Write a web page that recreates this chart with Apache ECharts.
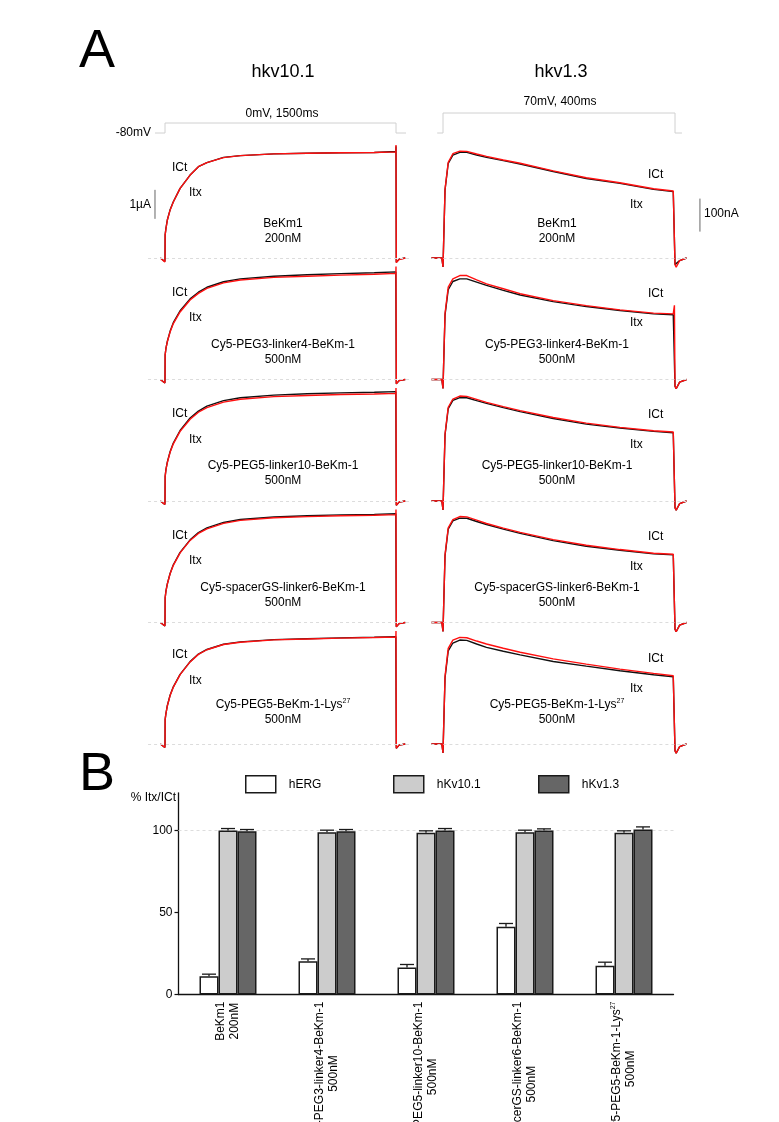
<!DOCTYPE html>
<html><head><meta charset="utf-8">
<script src="https://cdn.jsdelivr.net/npm/echarts@6/dist/echarts.min.js"></script>
<style>html,body{margin:0;padding:0;background:#fff}#c{width:779px;height:1122px}</style>
</head><body><div id="c"></div>
<script>
// ---------------- DATA ----------------
const panelNames = ['BeKm1', 'Cy5-PEG3-linker4-BeKm-1', 'Cy5-PEG5-linker10-BeKm-1', 'Cy5-spacerGS-linker6-BeKm-1', 'Cy5-PEG5-BeKm-1-Lys'];
const panelSup = ['', '', '', '', '27'];
const panelConc = ['200nM', '500nM', '500nM', '500nM', '500nM'];
const channelTitles = ['hkv10.1', 'hkv1.3'];
const protocolLabels = ['0mV, 1500ms', '70mV, 400ms'];

// hKv10.1 traces: time (ms), current (µA)
const tLeft = [-30, -1, 0, 1, 6, 15, 33, 54, 98, 163, 217, 272, 380, 489, 707, 924, 1141, 1359, 1499, 1500, 1502, 1520, 1560];
const kv10_ICt_1 = [0, -0.12, 0, 0.8, 1.02, 1.31, 1.66, 1.94, 2.40, 2.86, 3.15, 3.29, 3.47, 3.53, 3.59, 3.61, 3.63, 3.64, 3.67, 3.85, -0.15, -0.04, 0];
const kv10_Itx_1 = [0, -0.14, 0, 0.8, 1.00, 1.30, 1.65, 1.93, 2.40, 2.86, 3.15, 3.29, 3.46, 3.53, 3.59, 3.61, 3.63, 3.64, 3.66, 3.90, -0.16, -0.05, 0];
const kv10_ICt_2 = [0, -0.12, 0, 0.85, 1.07, 1.31, 1.66, 1.96, 2.37, 2.78, 3.01, 3.18, 3.37, 3.47, 3.56, 3.61, 3.65, 3.68, 3.71, 3.75, -0.15, -0.04, 0];
const kv10_Itx_2 = [0, -0.12, 0, 0.85, 1.07, 1.30, 1.64, 1.93, 2.33, 2.74, 2.97, 3.14, 3.33, 3.43, 3.52, 3.56, 3.60, 3.63, 3.66, 3.90, -0.15, -0.04, 0];
const kv10_ICt_3 = [0, -0.12, 0, 0.85, 1.08, 1.34, 1.70, 2.00, 2.43, 2.86, 3.10, 3.27, 3.46, 3.56, 3.65, 3.70, 3.73, 3.75, 3.77, 3.80, -0.15, -0.04, 0];
const kv10_Itx_3 = [0, -0.12, 0, 0.85, 1.07, 1.32, 1.68, 1.97, 2.40, 2.82, 3.06, 3.22, 3.41, 3.51, 3.60, 3.64, 3.67, 3.69, 3.71, 3.90, -0.15, -0.04, 0];
const kv10_ICt_4 = [0, -0.12, 0, 0.85, 1.08, 1.33, 1.69, 1.99, 2.42, 2.85, 3.10, 3.26, 3.45, 3.55, 3.64, 3.68, 3.71, 3.73, 3.75, 3.80, -0.15, -0.04, 0];
const kv10_Itx_4 = [0, -0.12, 0, 0.85, 1.07, 1.32, 1.68, 1.97, 2.40, 2.83, 3.07, 3.23, 3.42, 3.52, 3.61, 3.65, 3.68, 3.70, 3.72, 3.90, -0.15, -0.04, 0];
const kv10_ICt_5 = [0, -0.12, 0, 0.85, 1.05, 1.32, 1.68, 1.97, 2.40, 2.84, 3.10, 3.26, 3.44, 3.52, 3.60, 3.63, 3.66, 3.68, 3.70, 3.75, -0.15, -0.04, 0];
const kv10_Itx_5 = [0, -0.12, 0, 0.85, 1.05, 1.31, 1.67, 1.96, 2.39, 2.83, 3.09, 3.25, 3.43, 3.51, 3.59, 3.62, 3.65, 3.67, 3.69, 3.90, -0.15, -0.04, 0];

// hKv1.3 traces: time (ms), current (nA)
const tRight = [-20, -2, 0, 1, 3.5, 9, 17, 29, 41, 58, 75, 104, 133, 190, 247, 305, 363, 397, 399, 400, 402, 408, 420];
const kv13_ICt_1 = [0, 0, -27, 40, 206, 287, 312, 320, 320, 312, 305, 295, 285, 262, 241, 226, 208, 201, 205, -20, -25, -8, 0];
const kv13_Itx_1 = [0, 0, -27, 40, 208, 290, 316, 324, 323, 315, 308, 297, 287, 264, 243, 228, 210, 203, 208, -20, -28, -8, 0];
const kv13_ICt_2 = [0, 0, -27, 40, 195, 272, 297, 305, 305, 295, 285, 270, 256, 236, 221, 209, 199, 196, 200, -20, -28, -8, 0];
const kv13_Itx_2 = [0, 0, -27, 40, 200, 280, 305, 315, 315, 302, 290, 275, 260, 239, 224, 211, 201, 199, 225, -20, -28, -8, 0];
const kv13_ICt_3 = [0, 0, -27, 40, 200, 280, 305, 313, 313, 304, 296, 283, 271, 250, 233, 221, 211, 207, 210, -20, -28, -8, 0];
const kv13_Itx_3 = [0, 0, -27, 40, 203, 284, 309, 318, 317, 308, 299, 286, 274, 253, 236, 223, 213, 209, 214, -20, -28, -8, 0];
const kv13_ICt_4 = [0, 0, -27, 40, 202, 283, 308, 316, 316, 306, 297, 283, 270, 248, 231, 219, 208, 205, 208, -20, -28, -8, 0];
const kv13_Itx_4 = [0, 0, -27, 40, 205, 287, 312, 321, 320, 310, 300, 286, 273, 251, 234, 221, 210, 207, 212, -20, -28, -8, 0];
const kv13_ICt_5 = [0, 0, -27, 40, 200, 282, 306, 315, 314, 303, 293, 281, 270, 250, 236, 222, 210, 204, 206, -20, -28, -8, 0];
const kv13_Itx_5 = [0, 0, -27, 40, 205, 290, 315, 323, 322, 312, 303, 290, 278, 258, 242, 227, 214, 207, 212, -20, -28, -8, 0];

// voltage protocols (ms, mV)
const protoLeftT = [-65, 0, 0, 1500, 1500, 1565];
const protoLeftV = [-80, -80, 0, 0, -80, -80];
const protoRightT = [-10, 0, 0, 400, 400, 412];
const protoRightV = [-80, -80, 70, 70, -80, -80];

// scale bars
const scaleLeft = [[-65, 1.35], [-65, 2.35]];    // 1 µA
const scaleRight = [[443, 80], [443, 180]];      // 100 nA

// Panel B: % Itx/ICt
const seriesNames = ['hERG', 'hKv10.1', 'hKv1.3'];
const hERG = [11.2, 20.3, 16.5, 41.3, 17.5];
const hERG_err = [1.2, 1.4, 1.8, 2.0, 2.2];
const hKv101 = [100, 99.0, 98.6, 99.0, 98.6];
const hKv101_err = [1.2, 1.2, 1.2, 1.2, 1.2];
const hKv13 = [99.6, 99.6, 100.0, 100.0, 100.6];
const hKv13_err = [1.0, 1.0, 1.2, 1.0, 1.6];
const yTicksB = [0, 50, 100];

// ---------------- LAYOUT ----------------
const FONT = "'Liberation Sans', Arial, sans-serif";
const rowBase = [258, 379.5, 501, 622.5, 744];
const L = {t0x: 165, pxms: 0.154, pxu: 29, xmin: -110, xmax: 1600, ymin: -0.5, ymax: 4.2, baseEnd: 1600};
const R = {t0x: 443, pxms: 0.58, pxu: 0.33, xmin: -20, xmax: 450, ymin: -50, ymax: 380, baseEnd: 420};

const leftICt = [kv10_ICt_1, kv10_ICt_2, kv10_ICt_3, kv10_ICt_4, kv10_ICt_5];
const leftItx = [kv10_Itx_1, kv10_Itx_2, kv10_Itx_3, kv10_Itx_4, kv10_Itx_5];
const rightICt = [kv13_ICt_1, kv13_ICt_2, kv13_ICt_3, kv13_ICt_4, kv13_ICt_5];
const rightItx = [kv13_Itx_1, kv13_Itx_2, kv13_Itx_3, kv13_Itx_4, kv13_Itx_5];

const grids = [], xAxes = [], yAxes = [], series = [];
function addGrid(cfg, base) {
  grids.push({left: cfg.t0x + cfg.xmin * cfg.pxms, width: (cfg.xmax - cfg.xmin) * cfg.pxms,
              top: base - cfg.ymax * cfg.pxu, height: (cfg.ymax - cfg.ymin) * cfg.pxu,
              containLabel: false, outerBoundsMode: 'none'});
  const i = grids.length - 1;
  xAxes.push({type: 'value', gridIndex: i, min: cfg.xmin, max: cfg.xmax, show: false});
  yAxes.push({type: 'value', gridIndex: i, min: cfg.ymin, max: cfg.ymax, show: false});
  return i;
}
const zip = (t, v) => t.map((x, i) => [x, v[i]]);
function baselineMark(cfg) {
  return {silent: true, symbol: 'none', label: {show: false},
    lineStyle: {type: [3, 3], color: '#dcdcdc', width: 1},
    data: [[{coord: [cfg.xmin, 0]}, {coord: [cfg.baseEnd, 0]}]], animation: false};
}
function addTraces(gi, cfg, t, icT, itx) {
  series.push({type: 'line', xAxisIndex: gi, yAxisIndex: gi, data: zip(t, icT), symbol: 'none',
    lineStyle: {color: '#111', width: 1.4}, z: 3, animation: false, markLine: baselineMark(cfg)});
  series.push({type: 'line', xAxisIndex: gi, yAxisIndex: gi, data: zip(t, itx), symbol: 'none',
    lineStyle: {color: '#ff1010', width: 1.4}, z: 4, animation: false});
}
const leftGrid = [], rightGrid = [];
for (let r = 0; r < 5; r++) { leftGrid.push(addGrid(L, rowBase[r])); addTraces(leftGrid[r], L, tLeft, leftICt[r], leftItx[r]); }
for (let r = 0; r < 5; r++) { rightGrid.push(addGrid(R, rowBase[r])); addTraces(rightGrid[r], R, tRight, rightICt[r], rightItx[r]); }

// protocol grids
const PL = {t0x: L.t0x, pxms: L.pxms, pxu: 0.125, xmin: L.xmin, xmax: L.xmax, ymin: -100, ymax: 20};
const PR = {t0x: R.t0x, pxms: R.pxms, pxu: 20 / 150, xmin: R.xmin, xmax: R.xmax, ymin: -100, ymax: 100};
const gpl = addGrid(PL, 123), gpr = addGrid(PR, 113 + 70 * (20 / 150));
const protoStyle = {color: '#d0d0d0', width: 1};
series.push({type: 'line', xAxisIndex: gpl, yAxisIndex: gpl, data: zip(protoLeftT, protoLeftV), symbol: 'none', lineStyle: protoStyle, animation: false, clip: false});
series.push({type: 'line', xAxisIndex: gpr, yAxisIndex: gpr, data: zip(protoRightT, protoRightV), symbol: 'none', lineStyle: protoStyle, animation: false, clip: false});
// scale bars
series.push({type: 'line', xAxisIndex: leftGrid[0], yAxisIndex: leftGrid[0], data: scaleLeft, symbol: 'none', lineStyle: {color: '#666', width: 1}, animation: false, clip: false});
series.push({type: 'line', xAxisIndex: rightGrid[0], yAxisIndex: rightGrid[0], data: scaleRight, symbol: 'none', lineStyle: {color: '#666', width: 1}, animation: false, clip: false});

// ---------- Panel B ----------
const B = {left: 178.5, width: 495, zeroY: 994.5, pxu: 1.64, max: 123};
grids.push({left: B.left, width: B.width, top: B.zeroY - B.max * B.pxu, height: B.max * B.pxu, containLabel: false, outerBoundsMode: 'none'});
const gb = grids.length - 1;
xAxes.push({type: 'category', gridIndex: gb, data: panelNames,
  axisLine: {lineStyle: {color: '#111', width: 1.3}}, axisTick: {show: false},
  axisLabel: {interval: 0, rotate: 90, margin: 7, color: '#000', hideOverlap: false,
    formatter: (v, i) => '{a|' + v + '}' + (panelSup[i] ? '{s|' + panelSup[i] + '}' : '') + '\n{c|' + panelConc[i] + '}',
    rich: {a: {fontSize: 12, fontFamily: FONT, color: '#000', lineHeight: 14},
           s: {fontSize: 7, fontFamily: FONT, color: '#000', verticalAlign: 'top', lineHeight: 14},
           c: {fontSize: 12, fontFamily: FONT, color: '#000', lineHeight: 14, align: 'center'}}}});
yAxes.push({type: 'value', gridIndex: gb, min: 0, max: B.max,
  axisLine: {show: true, lineStyle: {color: '#111', width: 1.3}},
  axisTick: {show: true, length: 4, lineStyle: {color: '#111', width: 1.2}, customValues: yTicksB},
  axisLabel: {fontSize: 12, fontFamily: FONT, color: '#000', margin: 6, customValues: yTicksB},
  splitLine: {show: false}});
const BW = 19;
const barFill = ['#ffffff', '#cccccc', '#666666'];
const barVals = [hERG, hKv101, hKv13];
const barErrs = [hERG_err, hKv101_err, hKv13_err];
for (let s = 0; s < 3; s++) {
  const ser = {type: 'bar', name: seriesNames[s], xAxisIndex: gb, yAxisIndex: gb, data: barVals[s], barWidth: BW, barGap: '0%',
    itemStyle: {color: barFill[s], borderColor: '#1a1a1a', borderWidth: 1.5}, z: 2, animation: false};
  if (s === 0) ser.markLine = {silent: true, symbol: 'none', label: {show: false}, lineStyle: {type: [3, 3], color: '#dddddd', width: 1}, data: [{yAxis: 100}], z: 1};
  series.push(ser);
}
for (let s = 0; s < 3; s++) {
  const off = (s - 1) * BW;
  series.push({type: 'custom', name: seriesNames[s] + ' err', xAxisIndex: gb, yAxisIndex: gb, z: 5, animation: false,
    data: barVals[s].map((v, i) => [i, v, barErrs[s][i]]),
    encode: {x: 0, y: 1},
    renderItem: (params, api) => {
      const c = api.value(0), v = api.value(1), e = api.value(2);
      const p0 = api.coord([c, v]), p1 = api.coord([c, v + e]);
      const x = p0[0] + off;
      const st = {stroke: '#1a1a1a', lineWidth: 1.3};
      return {type: 'group', children: [
        {type: 'line', shape: {x1: x, y1: p0[1], x2: x, y2: p1[1]}, style: st},
        {type: 'line', shape: {x1: x - 7, y1: p1[1], x2: x + 7, y2: p1[1]}, style: st}]};
    }});
}

// legends
const legendX = [245, 393, 538];
const legends = seriesNames.map((n, i) => ({data: [n], left: legendX[i], top: 775, padding: 0, icon: 'rect',
  itemWidth: 30, itemHeight: 17, selectedMode: false,
  itemStyle: {borderColor: '#1a1a1a', borderWidth: 1.5},
  textStyle: {fontSize: 12, fontFamily: FONT, color: '#000', padding: [0, 0, 0, 8]}}));

// ---------- texts ----------
function txt(x, y, text, size, align, extra) {
  return {type: 'text', x: x, y: y, silent: true, z: 10,
    style: Object.assign({text: text, fontSize: size, fontFamily: FONT, fill: '#000', align: align || 'center', verticalAlign: 'middle'}, extra || {})};
}
const graphics = [];
graphics.push(txt(97, 52, 'A', 54));
graphics.push(txt(97, 775, 'B', 54));
graphics.push(txt(283, 72, channelTitles[0], 18));
graphics.push(txt(561, 72, channelTitles[1], 18));
graphics.push(txt(282, 114, protocolLabels[0], 12));
graphics.push(txt(560, 102, protocolLabels[1], 12));
graphics.push(txt(151, 133, '-80mV', 12, 'right'));
graphics.push(txt(151, 205, '1µA', 12, 'right'));
graphics.push(txt(704, 214, '100nA', 12, 'left'));
graphics.push(txt(176, 798, '% Itx/ICt', 12, 'right'));
const leftICtY = [168, 293, 414, 536, 655], leftItxY = [193, 318, 440, 561, 681];
const rightICtY = [175, 294, 415, 537, 659], rightItxY = [205, 323, 445, 567, 689];
const nameY = [224, 345, 466, 588, 705], concY = [239, 360, 481, 603, 720];
const richName = {a: {fontSize: 12, fontFamily: FONT, fill: '#000', lineHeight: 14}, s: {fontSize: 7, fontFamily: FONT, fill: '#000', verticalAlign: 'top', lineHeight: 14}};
for (let r = 0; r < 5; r++) {
  graphics.push(txt(172, leftICtY[r], 'ICt', 12, 'left'));
  graphics.push(txt(189, leftItxY[r], 'Itx', 12, 'left'));
  graphics.push(txt(648, rightICtY[r], 'ICt', 12, 'left'));
  graphics.push(txt(630, rightItxY[r], 'Itx', 12, 'left'));
  const nm = '{a|' + panelNames[r] + '}' + (panelSup[r] ? '{s|' + panelSup[r] + '}' : '');
  graphics.push(txt(283, nameY[r], nm, 12, 'center', {rich: richName}));
  graphics.push(txt(557, nameY[r], nm, 12, 'center', {rich: richName}));
  graphics.push(txt(283, concY[r], panelConc[r], 12));
  graphics.push(txt(557, concY[r], panelConc[r], 12));
}

const chart = echarts.init(document.getElementById('c'), null, {renderer: 'canvas'});
chart.setOption({
  backgroundColor: '#ffffff', animation: false,
  textStyle: {fontFamily: FONT},
  grid: grids, xAxis: xAxes, yAxis: yAxes, series: series, legend: legends, graphic: graphics
});
</script></body></html>
